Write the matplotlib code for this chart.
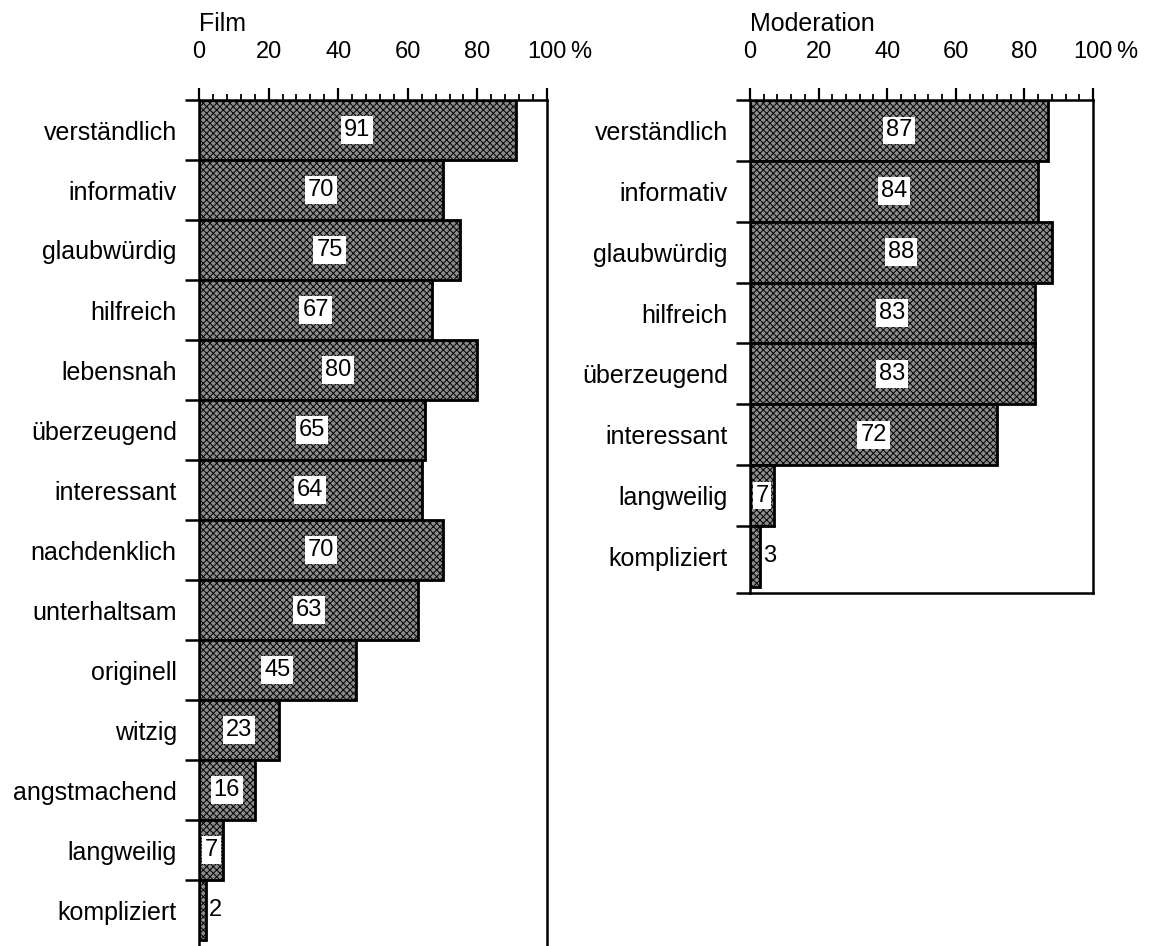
import matplotlib
matplotlib.use("Agg")
import matplotlib.pyplot as plt
import matplotlib.transforms as mtransforms
from matplotlib.ticker import MultipleLocator, FixedLocator

plt.rcParams['font.family'] = ['Liberation Sans', 'DejaVu Sans']
plt.rcParams['hatch.linewidth'] = 0.7

film_categories = ["verständlich", "informativ", "glaubwürdig", "hilfreich", "lebensnah",
                   "überzeugend", "interessant", "nachdenklich", "unterhaltsam", "originell",
                   "witzig", "angstmachend", "langweilig", "kompliziert"]
film_values = [91, 70, 75, 67, 80, 65, 64, 70, 63, 45, 23, 16, 7, 2]

mod_categories = ["verständlich", "informativ", "glaubwürdig", "hilfreich",
                  "überzeugend", "interessant", "langweilig", "kompliziert"]
mod_values = [87, 84, 88, 83, 83, 72, 7, 3]

tick_values = [0, 20, 40, 60, 80, 100]
tick_labels = ["0", "20", "40", "60", "80", "100"]

W, H = 1149, 946
fig = plt.figure(figsize=(W / 100, H / 100), dpi=100)

def px_rect(l, t, r, b):
    return [l / W, 1 - b / H, (r - l) / W, (b - t) / H]

ax_f = fig.add_axes(px_rect(199, 100, 547, 946))
ax_m = fig.add_axes(px_rect(750, 100, 1093, 593))

BAR_FACE = '#8c8c8c'
LW = 2.0
TICK_FS = 17
LABEL_FS = 18
MAJ_LEN = 9
MAJ_PAD = 18

def draw(ax, cats, vals, ybottom, title, show_bottom):
    n = len(cats)
    ypos = list(range(n))
    ax.barh(ypos, vals, height=1.0, color=BAR_FACE, edgecolor='black',
            linewidth=LW, hatch='xxxxx', zorder=2)
    ax.set_xlim(0, 100)
    ax.set_ylim(ybottom, -0.5)
    ax.xaxis.tick_top()
    ax.xaxis.set_major_locator(FixedLocator(tick_values))
    ax.set_xticklabels(tick_labels, fontsize=TICK_FS)
    ax.xaxis.set_minor_locator(MultipleLocator(4))
    ax.tick_params(axis='x', which='major', direction='out', length=MAJ_LEN, width=1.6, pad=MAJ_PAD)
    ax.tick_params(axis='x', which='minor', direction='out', length=4.5, width=1.3)
    # "%" sign after the 100 label
    off = mtransforms.ScaledTranslation(17 / 72, (MAJ_LEN + MAJ_PAD) / 72, fig.dpi_scale_trans)
    ax.text(100, 1.0, "%", transform=ax.get_xaxis_transform() + off, fontsize=TICK_FS,
            ha='left', va='bottom')
    ax.set_yticks(ypos)
    ax.set_yticklabels(cats, fontsize=LABEL_FS)
    bounds = [i + 0.5 for i in range(n - 1)] + [-0.5]
    if show_bottom:
        bounds.append(ybottom)
    ax.yaxis.set_minor_locator(FixedLocator(bounds))
    ax.tick_params(axis='y', which='major', length=0, pad=16)
    ax.tick_params(axis='y', which='minor', direction='out', length=10, width=1.8)
    for s in ['left', 'right', 'top', 'bottom']:
        ax.spines[s].set_linewidth(1.8)
    ax.spines['bottom'].set_visible(show_bottom)
    for y, v in zip(ypos, vals):
        if v >= 5:
            ax.text(v / 2, y, str(v), ha='center', va='center', fontsize=TICK_FS, zorder=4,
                    bbox=dict(boxstyle='square,pad=0.12', facecolor='white', edgecolor='none'))
        else:
            ax.text(v + 0.8, y, str(v), ha='left', va='center', fontsize=TICK_FS, zorder=4)
    pos = ax.get_position()
    fig.text(pos.x0, 1 - 24 / H, title, fontsize=LABEL_FS, ha='left', va='center')

draw(ax_f, film_categories, film_values, 13.6, "Film", False)
draw(ax_m, mod_categories, mod_values, 7.6, "Moderation", True)

fig.savefig("out.png", dpi=100)
